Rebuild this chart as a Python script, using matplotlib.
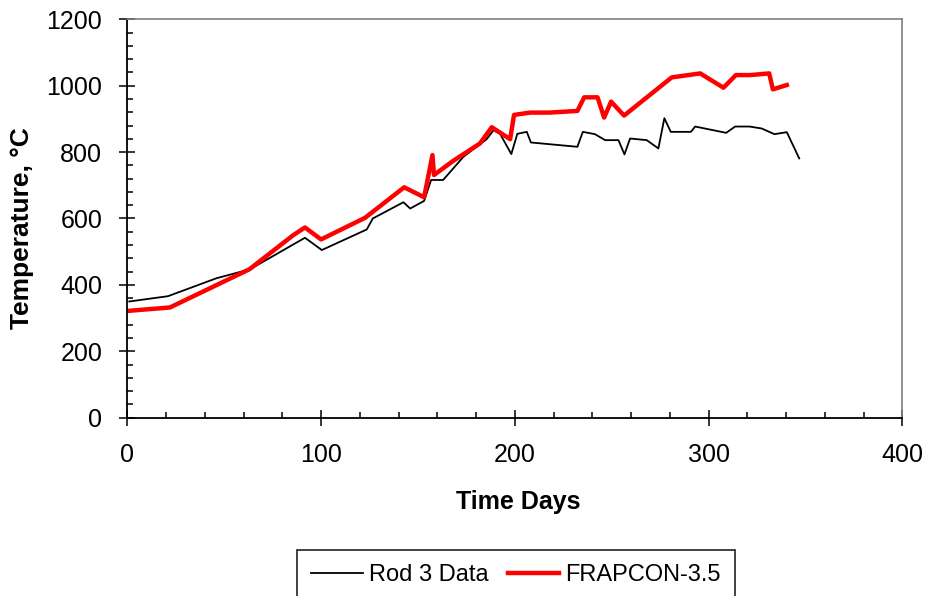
import matplotlib
matplotlib.use("Agg")
import matplotlib.pyplot as plt
from matplotlib.ticker import MultipleLocator

plt.rcParams['font.family'] = ['Liberation Sans', 'DejaVu Sans']

rod_x = [1, 21, 46, 63.3, 91.7, 100.4, 123.6, 126.7, 142.5, 146, 153.2, 156.8, 163,
         173.5, 185.5, 189, 192.4, 198.2, 201.3, 206.2, 208.3, 232.3, 235.1, 241.4,
         246.6, 253.5, 256.6, 259.5, 268.1, 274.1, 277.2, 280.5, 290.9, 293.1, 309.1,
         313.7, 321.1, 327.5, 334, 340.4, 346.8]
rod_y = [350, 366, 420, 447, 542, 505, 567, 600, 649, 630, 653, 716, 716,
         786, 839, 866, 855, 794, 855, 861, 829, 816, 861, 854,
         836, 836, 793, 841, 836, 811, 902, 861, 861, 877, 858,
         877, 877, 871, 854, 860, 781]

frap_x = [1, 22, 63, 85.7, 91.7, 100, 122.7, 142.9, 153.2, 157.5, 158.3, 168.3, 182,
          188.1, 197.6, 199.6, 207.9, 218, 232.3, 235.8, 242.7, 246.1, 249.7, 256.4,
          281, 295.7, 307.7, 314.1, 321.5, 331.3, 333.2, 340.4]
frap_y = [322, 332, 447, 550, 573, 537, 602, 694, 664, 791, 731, 774, 826,
          875, 839, 912, 919, 919, 924, 965, 965, 904, 952, 910,
          1025, 1037, 994, 1032, 1032, 1037, 989, 1002]

W, H = 925, 596
fig = plt.figure(figsize=(W / 100, H / 100), dpi=100)
ax = fig.add_axes([127.3 / W, 1 - 417.7 / H, (902.3 - 127.3) / W, (417.7 - 19.3) / H])

l1, = ax.plot(rod_x, rod_y, color='black', lw=1.3, label='Rod 3 Data')
l2, = ax.plot(frap_x, frap_y, color='#ff0000', lw=3.2, label='FRAPCON-3.5')

ax.set_xlim(0, 400)
ax.set_ylim(0, 1200)
ax.xaxis.set_major_locator(MultipleLocator(100))
ax.xaxis.set_minor_locator(MultipleLocator(20))
ax.yaxis.set_major_locator(MultipleLocator(200))
ax.yaxis.set_minor_locator(MultipleLocator(40))

ax.tick_params(which='major', direction='inout', length=11, width=1.1, labelsize=18, pad=12.5)
ax.tick_params(which='minor', direction='in', length=4.5, width=1.1)
ax.tick_params(top=False, right=False, which='both')

for s in ['left', 'bottom']:
    ax.spines[s].set_color('black')
    ax.spines[s].set_linewidth(1.3)
for s in ['top', 'right']:
    ax.spines[s].set_color('#808080')
    ax.spines[s].set_linewidth(1.2)

fig.text(22 / W, 1 - 228 / H, 'Temperature, °C', rotation=90, ha='center', va='center',
         fontsize=19, fontweight='bold')
fig.text(518 / W, 1 - 502 / H, 'Time Days', ha='center', va='center',
         fontsize=18, fontweight='bold')

leg = fig.legend(handles=[l1, l2], loc='upper center', bbox_to_anchor=(516 / W, 1 - 550 / H),
                 ncol=2, fontsize=17, frameon=True, fancybox=False, borderaxespad=0,
                 handlelength=2.2, handletextpad=0.25, columnspacing=0.8, borderpad=0.6)
leg.get_frame().set_edgecolor('black')
leg.get_frame().set_linewidth(1.3)

fig.savefig('out.png', dpi=100)
